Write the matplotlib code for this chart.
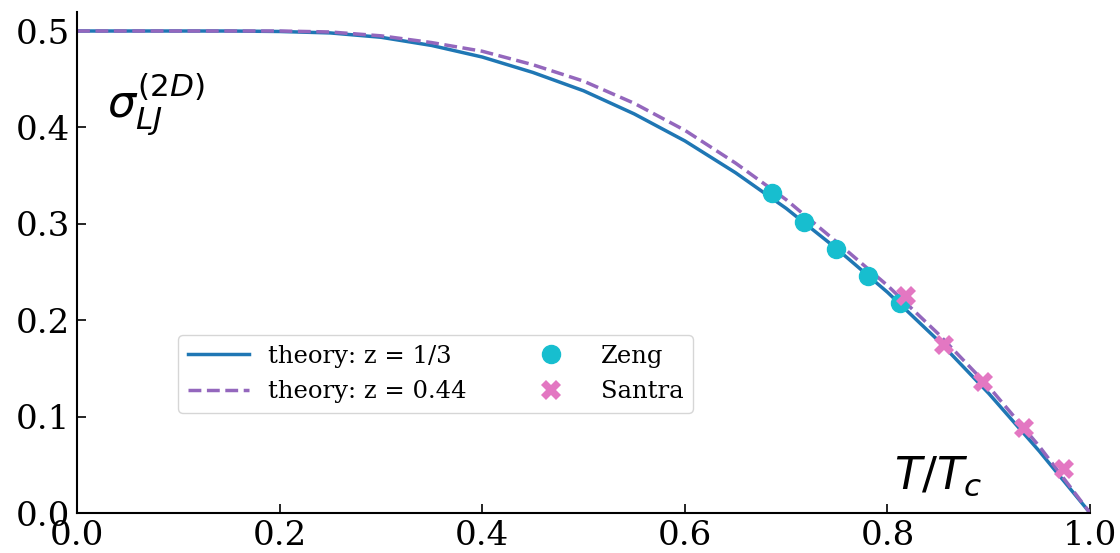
import numpy as np
import matplotlib
matplotlib.use("Agg")
import matplotlib.pyplot as plt

# theory curves (T/Tc, sigma)
t_theory = [0.00, 0.05, 0.10, 0.15, 0.20, 0.25, 0.30, 0.35, 0.40, 0.45, 0.50,
            0.55, 0.60, 0.65, 0.70, 0.75, 0.80, 0.85, 0.90, 0.95, 1.00]
sigma_z13 = [0.500, 0.500, 0.500, 0.500, 0.4995, 0.498, 0.4935, 0.485, 0.473, 0.457, 0.438,
             0.414, 0.386, 0.353, 0.316, 0.274, 0.229, 0.179, 0.124, 0.064, 0.000]
sigma_z044 = [0.500, 0.500, 0.500, 0.500, 0.500, 0.499, 0.495, 0.488, 0.479, 0.465, 0.448,
              0.425, 0.397, 0.363, 0.325, 0.281, 0.236, 0.186, 0.131, 0.069, 0.000]

# simulation data
t_zeng = [0.686, 0.718, 0.749, 0.781, 0.812]
sigma_zeng = [0.332, 0.302, 0.274, 0.246, 0.218]
t_santra = [0.818, 0.856, 0.894, 0.935, 0.974]
sigma_santra = [0.2246, 0.1745, 0.136, 0.0886, 0.0457]

plt.rcParams['font.family'] = 'DejaVu Serif'
plt.rcParams['mathtext.fontset'] = 'dejavusans'

fig = plt.figure(figsize=(11.2, 5.53), dpi=100)
ax = fig.add_axes([0.0688, 0.0723, 0.9045, 0.9065])

ax.plot(t_theory, sigma_z13, color='tab:blue', lw=2.5, label='theory: z = 1/3')
ax.plot(t_theory, sigma_z044, color='tab:purple', lw=2.5, ls='--', label='theory: z = 0.44')
ax.plot(t_zeng, sigma_zeng, 'o', color='tab:cyan', ms=13, label='Zeng')
ax.plot(t_santra, sigma_santra, 'X', color='tab:pink', ms=14, mew=0, label='Santra')

ax.set_xlim(0, 1)
ax.set_ylim(0, 0.52)
ax.set_xticks([0.0, 0.2, 0.4, 0.6, 0.8, 1.0])
ax.set_yticks([0.0, 0.1, 0.2, 0.3, 0.4, 0.5])
ax.tick_params(direction='in', length=6.5, width=1.2, labelsize=24.5, pad=5)
for s in ['top', 'right']:
    ax.spines[s].set_visible(False)
for s in ['left', 'bottom']:
    ax.spines[s].set_linewidth(1.5)

ax.text(0.03, 0.41, r'$\sigma_{LJ}^{(2D)}$', fontsize=32, ha='left', va='baseline')
ax.text(0.806, 0.0256, r'$T/T_c$', fontsize=32, ha='left', va='baseline')

ax.legend(ncol=2, fontsize=17.5, loc='lower left', bbox_to_anchor=(0.1, 0.2),
          borderaxespad=0, handlelength=2.5, columnspacing=2.2)

plt.savefig('out.png', dpi=100)
plt.close()
